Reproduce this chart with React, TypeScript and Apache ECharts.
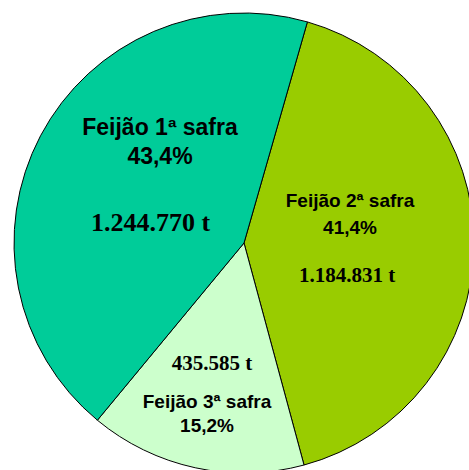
import React, { useEffect, useRef } from "react";
import * as echarts from "echarts";

const categories = ["Feijão 2ª safra", "Feijão 3ª safra", "Feijão 1ª safra"];
const values = [1184831, 435585, 1244770];
const colors = ["#99CC00", "#CCFFCC", "#00CC99"];

const labelAnchors = [
  { x: 350, y: 248 },
  { x: 207, y: 401 },
  { x: 160, y: 193 },
];

function fmtThousands(v: number): string {
  return String(v).replace(/\B(?=(\d{3})+(?!\d))/g, ".");
}

export default function App() {
  const ref = useRef<HTMLDivElement>(null);
  useEffect(() => {
    if (!ref.current) return;
    const chart = echarts.init(ref.current, undefined, { renderer: "svg" });
    const total = values.reduce((a, b) => a + b, 0);
    const pct = (v: number) => ((v / total) * 100).toFixed(1).replace(".", ",") + "%";
    chart.setOption({
      animation: false,
      backgroundColor: "#ffffff",
      series: [
        {
          type: "pie",
          center: [244, 243],
          radius: 230,
          startAngle: 74,
          clockwise: true,
          avoidLabelOverlap: false,
          itemStyle: { borderColor: "#000000", borderWidth: 1 },
          labelLine: { show: false },
          label: {
            show: true,
            position: "inside",
            formatter: (p: any) => {
              const i = p.dataIndex;
              const name = categories[i];
              const pc = pct(values[i]);
              const val = fmtThousands(values[i]) + " t";
              if (i === 2) return `{n1|${name}}\n{p1|${pc}}\n{v1|${val}}`;
              if (i === 0) return `{n2|${name}}\n{p2|${pc}}\n{v2|${val}}`;
              return `{v3|${val}}\n{n3|${name}}\n{p3|${pc}}`;
            },
            rich: {
              n1: { fontFamily: "Liberation Sans", fontWeight: "bold", fontSize: 23, lineHeight: 29, color: "#000" },
              p1: { fontFamily: "Liberation Sans", fontWeight: "bold", fontSize: 23, lineHeight: 29, color: "#000" },
              v1: { fontFamily: "Liberation Serif", fontWeight: "bold", fontSize: 26, lineHeight: 103, padding: [0, 19, 0, 0], color: "#000" },
              n2: { fontFamily: "Liberation Sans", fontWeight: "bold", fontSize: 19, lineHeight: 27, color: "#000" },
              p2: { fontFamily: "Liberation Sans", fontWeight: "bold", fontSize: 19, lineHeight: 27, color: "#000" },
              v2: { fontFamily: "Liberation Serif", fontWeight: "bold", fontSize: 21, lineHeight: 69, padding: [0, 6, 0, 0], color: "#000" },
              v3: { fontFamily: "Liberation Serif", fontWeight: "bold", fontSize: 21, lineHeight: 24, padding: [0, 0, 28, 10], color: "#000" },
              n3: { fontFamily: "Liberation Sans", fontWeight: "bold", fontSize: 19, lineHeight: 24, color: "#000" },
              p3: { fontFamily: "Liberation Sans", fontWeight: "bold", fontSize: 19, lineHeight: 24, color: "#000" },
            },
          },
          labelLayout: (params: any) => {
            const a = labelAnchors[params.dataIndex];
            return { x: a.x, y: a.y, align: "center", verticalAlign: "middle" };
          },
          emphasis: { disabled: true },
          data: categories.map((c, i) => ({
            name: c,
            value: values[i],
            itemStyle: { color: colors[i] },
          })),
        },
      ],
    });
    return () => chart.dispose();
  }, []);
  return (
    <div
      ref={ref}
      style={{ position: "fixed", left: 0, top: 0, width: 469, height: 470 }}
    />
  );
}
